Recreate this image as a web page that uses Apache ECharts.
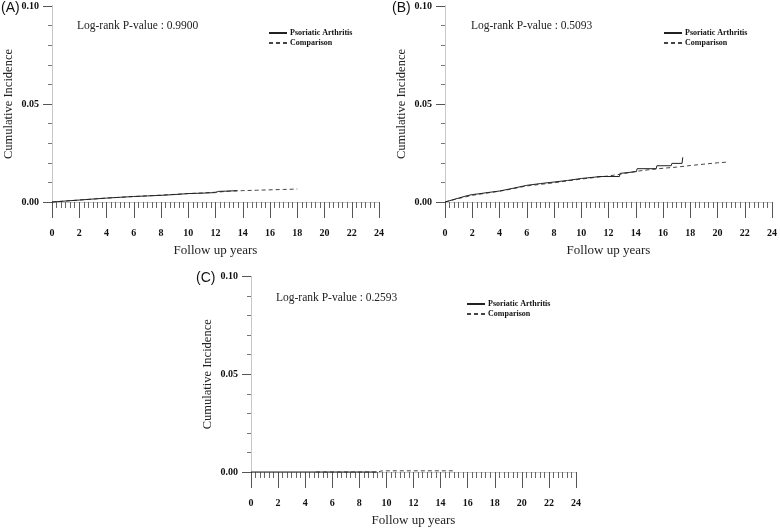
<!DOCTYPE html>
<html>
<head>
<meta charset="utf-8">
<script src="https://cdn.jsdelivr.net/npm/echarts@6/dist/echarts.min.js"></script>
<style>
html,body{margin:0;padding:0;background:#fff;}
#chart{width:780px;height:528px;}
</style>
</head>
<body>
<div id="chart"></div>
<script>
// ---- Data ----
var panelTitles = ['(A)', '(B)', '(C)'];
var pValueTexts = ['Log-rank P-value : 0.9900', 'Log-rank P-value : 0.5093', 'Log-rank P-value : 0.2593'];
var seriesNames = ['Psoriatic Arthritis', 'Comparison'];
var xTickMin = 0, xTickMax = 24, xTickStep = 2;
var yTickMin = 0, yTickMax = 0.10, yTickStep = 0.05;

var psaA = [[0,0],[1,0.0005],[2,0.001],[3,0.0015],[4,0.002],[5,0.0024],[6,0.0028],[7,0.0031],[8,0.0034],[9,0.0038],[10,0.0043],[11,0.0045],[12,0.0048],[12.2,0.0054],[13,0.0056],[13.6,0.0058]];
var compA = [[0,0],[2,0.001],[4,0.002],[6,0.0028],[8,0.0035],[10,0.0043],[11,0.0046],[12,0.005],[13,0.0055],[14,0.0058],[15,0.006],[16,0.0062],[17,0.0064],[18,0.0066]];

var psaB = [[0,0],[0.5,0.001],[1,0.002],[1.5,0.003],[2,0.0038],[2.5,0.0042],[3,0.0047],[4,0.0056],[5,0.007],[6,0.0085],[7,0.0094],[8,0.0102],[9,0.011],[10,0.012],[11,0.0127],[11.3,0.013],[12.8,0.013],[12.85,0.0146],[14.05,0.0155],[14.1,0.017],[15.5,0.017],[15.55,0.0185],[16.6,0.0185],[16.65,0.0197],[17.4,0.0197],[17.45,0.0228]];
var compB = [[0,0],[1,0.0018],[2,0.0034],[3,0.0045],[4,0.0055],[5,0.0068],[6,0.0082],[7,0.009],[8,0.0098],[9,0.0108],[10,0.0117],[11,0.0125],[12,0.0133],[12.8,0.0141],[14,0.0156],[15,0.0165],[16,0.0172],[17,0.0178],[18,0.0186],[19,0.0193],[20,0.02],[20.8,0.0204]];

var psaC = [[0,0],[9.3,0]];
var compC = [[4.8,0],[9.4,0],[9.6,0.0005],[10,0.0006],[15.1,0.0006]];

var panelData = [[psaA, compA], [psaB, compB], [psaC, compC]];

// ---- Layout (styles only) ----
var grids = [
  {left: 52, top: 6, width: 327, height: 196},
  {left: 445, top: 6, width: 327, height: 196},
  {left: 251, top: 276.5, width: 325, height: 196}
];
var titlePos = [{left: 1, top: 1}, {left: 392, top: 1}, {left: 196, top: 271}];
var pvPos = [[77, 27], [471, 27], [276, 299]];
var legendPos = [{left: 268, top: 28}, {left: 663, top: 28}, {left: 466, top: 299}];

var SERIF = '"Liberation Serif", "Times New Roman", serif';
var SANS = '"Liberation Sans", Arial, sans-serif';
var INK = '#222';

var option = {
  backgroundColor: '#fff',
  animation: false,
  title: [], grid: [], xAxis: [], yAxis: [], series: [], legend: [], graphic: []
};

for (var i = 0; i < 3; i++) {
  option.title.push({
    text: panelTitles[i], left: titlePos[i].left, top: titlePos[i].top, padding: 0,
    textStyle: {fontFamily: SANS, fontSize: 14, fontWeight: 'normal', color: '#111'}
  });
  option.grid.push(grids[i]);
  // bottom x axis (ticks + labels)
  option.xAxis.push({
    type: 'value', gridIndex: i, min: xTickMin, max: xTickMax, interval: xTickStep,
    position: 'bottom', offset: 4,
    name: 'Follow up years', nameLocation: 'middle', nameGap: 38,
    nameTextStyle: {fontFamily: SERIF, fontSize: 13, color: INK},
    axisLine: {show: false},
    axisTick: {show: true, length: 16, inside: false, lineStyle: {color: '#555', width: 1}},
    minorTick: {show: true, splitNumber: 6, length: 6, lineStyle: {color: '#666', width: 1}},
    axisLabel: {margin: 22, fontFamily: SERIF, fontSize: 10, fontWeight: 'bold', color: '#111'},
    splitLine: {show: false}, minorSplitLine: {show: false}
  });
  // top frame line
  option.xAxis.push({
    type: 'value', gridIndex: i, min: xTickMin, max: xTickMax, position: 'top',
    axisLine: {show: true, lineStyle: {color: '#c8c8c8', width: 1}},
    axisTick: {show: false}, axisLabel: {show: false}, splitLine: {show: false}
  });
  // left y axis
  option.yAxis.push({
    type: 'value', gridIndex: i, min: yTickMin, max: yTickMax, interval: yTickStep,
    position: 'left',
    name: 'Cumulative Incidence', nameLocation: 'middle', nameGap: 37,
    nameTextStyle: {fontFamily: SERIF, fontSize: 12.5, color: INK},
    axisLine: {show: true, lineStyle: {color: '#aaa', width: 1}},
    axisTick: {show: true, length: 9, lineStyle: {color: '#555'}},
    minorTick: {show: true, splitNumber: 5, length: 4, lineStyle: {color: '#777'}},
    axisLabel: {margin: 13, fontFamily: SERIF, fontSize: 10, fontWeight: 'bold', color: '#111',
      formatter: function (v) { return v.toFixed(2); }},
    splitLine: {show: false}, minorSplitLine: {show: false}
  });
  // right frame line
  option.yAxis.push({
    type: 'value', gridIndex: i, min: yTickMin, max: yTickMax, position: 'right',
    axisLine: {show: true, lineStyle: {color: '#c8c8c8', width: 1}},
    axisTick: {show: false}, axisLabel: {show: false}, splitLine: {show: false}
  });
  option.series.push({
    name: seriesNames[0], type: 'line', xAxisIndex: 2 * i, yAxisIndex: 2 * i,
    data: panelData[i][0], showSymbol: false, symbol: 'none', clip: false,
    lineStyle: {color: INK, width: 1, type: 'solid'}, itemStyle: {color: INK}, z: 3
  });
  option.series.push({
    name: seriesNames[1], type: 'line', xAxisIndex: 2 * i, yAxisIndex: 2 * i,
    data: panelData[i][1], showSymbol: false, symbol: 'none', clip: false,
    lineStyle: {color: '#444', width: 1, type: [4, 3]}, itemStyle: {color: '#444'}, z: 2
  });
  option.legend.push({
    data: seriesNames, orient: 'vertical', left: legendPos[i].left, top: legendPos[i].top,
    padding: 0, itemGap: 0, itemWidth: 18, itemHeight: 10, selectedMode: false,
    itemStyle: {opacity: 0},
    textStyle: {fontFamily: SERIF, fontSize: 8, fontWeight: 'bold', color: '#111', lineHeight: 10, padding: [0, 0, 0, -2]}
  });
  option.graphic.push({
    type: 'text', left: pvPos[i][0], top: pvPos[i][1] - 7,
    style: {text: pValueTexts[i], font: '11.5px ' + SERIF, fill: INK}
  });
}

var chart = echarts.init(document.getElementById('chart'));
chart.setOption(option);
</script>
</body>
</html>
